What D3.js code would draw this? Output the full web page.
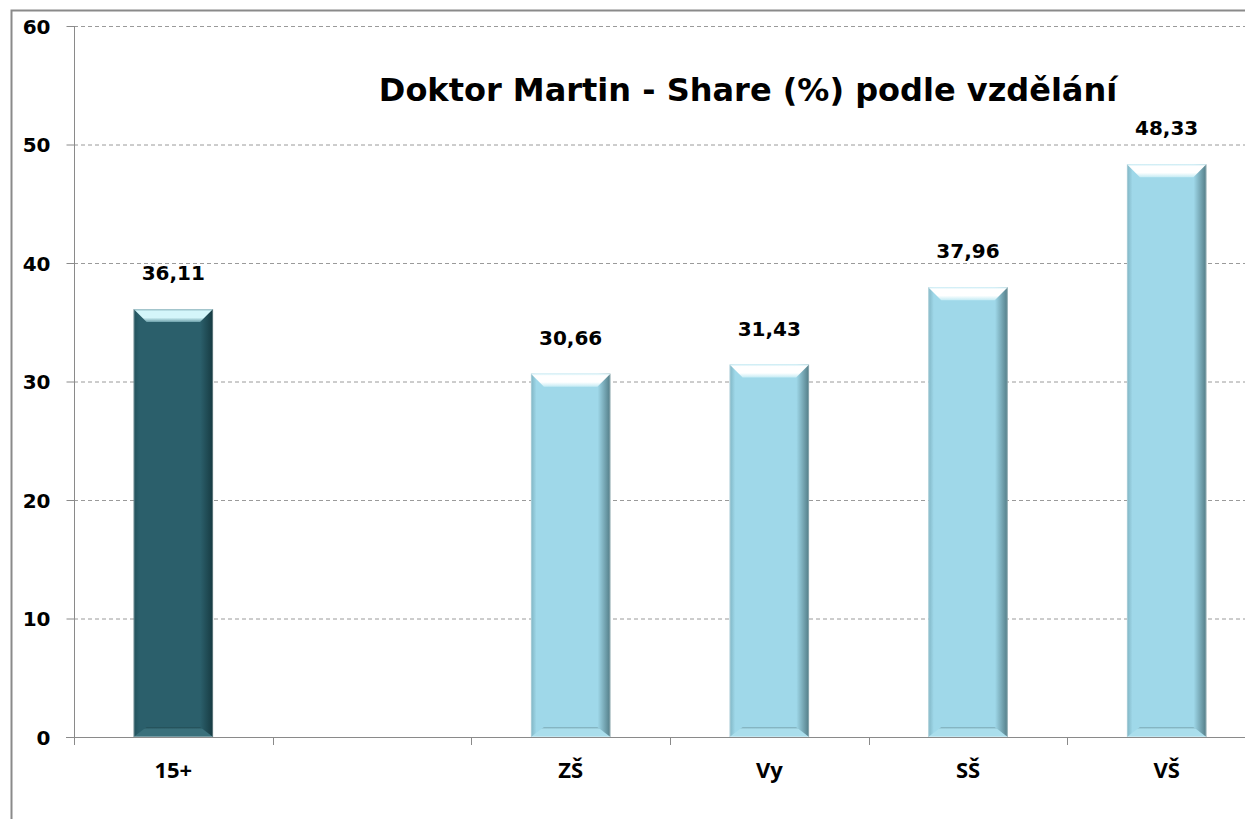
<!DOCTYPE html>
<html>
<head>
<meta charset="utf-8">
<script src="https://cdn.jsdelivr.net/npm/d3@7"></script>
<style>
  html, body { margin: 0; padding: 0; background: #fff; }
  svg { display: block; }
</style>
</head>
<body>
<div id="chart"></div>
<script>
// Chart data
const categories = ["15+", "", "ZŠ", "Vy", "SŠ", "VŠ"];
const shares = [36.11, null, 30.66, 31.43, 37.96, 48.33];
const yTicks = [0, 10, 20, 30, 40, 50, 60];
const chartTitle = "Doktor Martin - Share (%) podle vzdělání";

// Frame and plot area
const width = 1245;
const height = 819;
const plot = {left: 74, top: 26, right: 1266, bottom: 737};

const svg = d3.select("#chart")
              .append("svg")
              .attr("width", width)
              .attr("height", height);

const defs = svg.append("defs");

// bevel gradients for the two bar colours
const palettes = {
  dark:  {base: "#2b5f6b", edge: "#163a41", leftEdge: "#22515b", hi: "#d4f6fa", rim: "#6a9ea8", low: "#3a707b", line: "#1f4a53"},
  light: {base: "#9fd8e9", edge: "#527c86", leftEdge: "#7fb4c3", hi: "#ffffff", rim: "#c4ebf4", low: "#aadeec", line: "#7aa9b6"}
};

Object.entries(palettes).forEach(([key, p]) => {
  const body = defs.append("linearGradient").attr("id", "body-" + key)
                   .attr("x1", 0).attr("x2", 1).attr("y1", 0).attr("y2", 0);
  body.append("stop").attr("offset", "0%").attr("stop-color", p.leftEdge);
  body.append("stop").attr("offset", "7%").attr("stop-color", p.base);
  body.append("stop").attr("offset", "84%").attr("stop-color", p.base);
  body.append("stop").attr("offset", "100%").attr("stop-color", p.edge);

  const top = defs.append("linearGradient").attr("id", "top-" + key)
                  .attr("x1", 0).attr("x2", 0).attr("y1", 0).attr("y2", 1);
  top.append("stop").attr("offset", "0%").attr("stop-color", p.rim);
  top.append("stop").attr("offset", "15%").attr("stop-color", p.hi);
  top.append("stop").attr("offset", "65%").attr("stop-color", p.hi);
  top.append("stop").attr("offset", "100%").attr("stop-color", p.rim);

  const bot = defs.append("linearGradient").attr("id", "bot-" + key)
                  .attr("x1", 0).attr("x2", 0).attr("y1", 0).attr("y2", 1);
  bot.append("stop").attr("offset", "0%").attr("stop-color", p.line);
  bot.append("stop").attr("offset", "22%").attr("stop-color", p.low);
  bot.append("stop").attr("offset", "100%").attr("stop-color", p.low);
});

// outer border (runs off the right and bottom edge like the original)
svg.append("rect")
   .attr("x", 11.5).attr("y", 10.5)
   .attr("width", 1300).attr("height", 900)
   .attr("fill", "none")
   .attr("stroke", "#8a8a8a")
   .attr("stroke-width", 2);

// Scales
const x = d3.scaleBand()
            .domain(categories)
            .range([plot.left, plot.right])
            .padding(0);
const y = d3.scaleLinear()
            .domain([0, 60])
            .range([plot.bottom, plot.top]);

// gridlines
svg.append("g")
   .selectAll("line")
   .data(yTicks.filter(t => t > 0))
   .enter()
   .append("line")
   .attr("x1", plot.left).attr("x2", width)
   .attr("y1", d => y(d) + 0.5).attr("y2", d => y(d) + 0.5)
   .attr("stroke", "#9a9a9a")
   .attr("stroke-dasharray", "4,3");

// y axis
const yAxis = svg.append("g")
   .attr("transform", "translate(" + (plot.left + 0.5) + ",0)")
   .call(d3.axisLeft(y).tickValues(yTicks).tickSize(8).tickPadding(16));
yAxis.select(".domain").attr("stroke", "#8a8a8a").attr("d", "M0," + plot.top + "V" + plot.bottom);
yAxis.selectAll(".tick line").attr("stroke", "#8a8a8a");
yAxis.selectAll("text")
     .attr("font-family", "DejaVu Sans")
     .attr("font-weight", "bold")
     .attr("font-size", "20px")
     .attr("fill", "#000")
     .attr("dy", "0.36em");

// x axis line and category boundaries
const bounds = categories.map(c => x(c)).concat([plot.right]);
svg.append("line")
   .attr("x1", plot.left - 8).attr("x2", width)
   .attr("y1", plot.bottom + 0.5).attr("y2", plot.bottom + 0.5)
   .attr("stroke", "#8a8a8a");
svg.append("g")
   .selectAll("line")
   .data(bounds)
   .enter()
   .append("line")
   .attr("x1", d => Math.round(d) + 0.5).attr("x2", d => Math.round(d) + 0.5)
   .attr("y1", plot.bottom).attr("y2", plot.bottom + 8)
   .attr("stroke", "#8a8a8a");

svg.append("g")
   .selectAll("text")
   .data(categories)
   .enter()
   .append("text")
   .attr("x", d => x(d) + x.bandwidth() / 2)
   .attr("y", 778)
   .attr("text-anchor", "middle")
   .attr("font-family", "Open Sans")
   .attr("font-weight", "bold")
   .attr("font-size", "22px")
   .text(d => d);

// Bars with bevel
const barW = x.bandwidth() * 0.4;
const bev = 13;
const barData = categories.map((c, i) => ({cat: c, value: shares[i], kind: i === 0 ? "dark" : "light"}))
                          .filter(d => d.value !== null);

const bars = svg.append("g")
                .selectAll("g")
                .data(barData)
                .enter()
                .append("g")
                .attr("transform", d => "translate(" + (x(d.cat) + (x.bandwidth() - barW) / 2) + ",0)");

bars.append("rect")
    .attr("x", 0)
    .attr("y", d => y(d.value))
    .attr("width", barW)
    .attr("height", d => y(0) - y(d.value))
    .attr("fill", d => "url(#body-" + d.kind + ")");

bars.append("path")
    .attr("d", d => {
      const t = y(d.value);
      return "M0," + t + "H" + barW + "L" + (barW - bev) + "," + (t + 13) + "H" + bev + "Z";
    })
    .attr("fill", d => "url(#top-" + d.kind + ")");

bars.append("path")
    .attr("d", d => {
      const b = y(0);
      return "M" + bev + "," + (b - 10) + "H" + (barW - bev) + "L" + barW + "," + b + "H0Z";
    })
    .attr("fill", d => "url(#bot-" + d.kind + ")");

bars.append("rect")
    .attr("x", 0.5)
    .attr("y", d => y(d.value) + 0.5)
    .attr("width", barW - 1)
    .attr("height", d => y(0) - y(d.value) - 1)
    .attr("fill", "none")
    .attr("stroke", "#ffffff")
    .attr("stroke-opacity", 0.3);

// value labels
const csFormat = d3.formatLocale({decimal: ",", thousands: " ", grouping: [3], currency: ["", " Kč"]}).format(".2f");
bars.append("text")
    .attr("x", barW / 2)
    .attr("y", d => y(d.value) - 29)
    .attr("text-anchor", "middle")
    .attr("font-family", "DejaVu Sans")
    .attr("font-weight", "bold")
    .attr("font-size", "20px")
    .text(d => csFormat(d.value));

// title
svg.append("text")
   .attr("x", 748)
   .attr("y", 101)
   .attr("text-anchor", "middle")
   .attr("font-family", "DejaVu Sans")
   .attr("font-weight", "bold")
   .attr("font-size", "32px")
   .text(chartTitle);
</script>
</body>
</html>
